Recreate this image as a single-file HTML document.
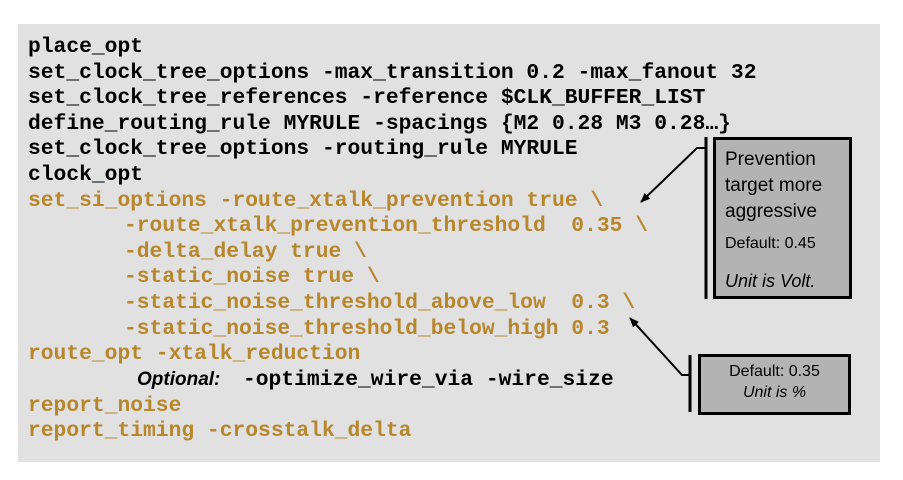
<!DOCTYPE html>
<html><head><style>
body{margin:0;width:903px;height:480px;background:#fff;position:relative;overflow:hidden}
.bg{position:absolute;left:18px;top:24px;width:862px;height:438px;background:#e1e1e1}
.l{position:absolute;left:28px;font-family:"Liberation Mono",monospace;font-weight:bold;font-size:21.3px;line-height:26px;white-space:pre;color:#000}
.o{color:#b8862b}
.s{font-family:"Liberation Sans",sans-serif}
</style></head><body>
<div class="bg"></div>
<div class="l" style="top:34px">place_opt</div>
<div class="l" style="top:60px">set_clock_tree_options -max_transition 0.2 -max_fanout 32</div>
<div class="l" style="top:85px">set_clock_tree_references -reference $CLK_BUFFER_LIST</div>
<div class="l" style="top:111px">define_routing_rule MYRULE -spacings {M2 0.28 M3 0.28…}</div>
<div class="l" style="top:136px">set_clock_tree_options -routing_rule MYRULE</div>
<div class="l" style="top:162px">clock_opt</div>
<div class="l o" style="top:188px">set_si_options -route_xtalk_prevention true \</div>
<div class="l o" style="top:213px;left:124px">-route_xtalk_prevention_threshold  0.35 \</div>
<div class="l o" style="top:239px;left:124px">-delta_delay true \</div>
<div class="l o" style="top:264px;left:124px">-static_noise true \</div>
<div class="l o" style="top:290px;left:124px">-static_noise_threshold_above_low  0.3 \</div>
<div class="l o" style="top:316px;left:124px">-static_noise_threshold_below_high 0.3</div>
<div class="l o" style="top:341px">route_opt -xtalk_reduction</div>
<div class="l" style="top:367px;left:137px"><span class="s" style="font-style:italic;font-size:19px">Optional:</span></div>
<div class="l" style="top:367px;left:243px">-optimize_wire_via -wire_size</div>
<div class="l o" style="top:393px">report_noise</div>
<div class="l o" style="top:418px">report_timing -crosstalk_delta</div>

<div style="position:absolute;left:713px;top:137px;width:133px;height:156px;background:#b3b3b3;border:3px solid #000;font-family:'Liberation Sans',sans-serif;color:#000">
<div style="position:absolute;left:9px;top:7px;font-size:19px;line-height:26px">Prevention<br>target more<br>aggressive</div>
<div style="position:absolute;left:9px;top:95px;font-size:16px">Default: 0.45</div>
<div style="position:absolute;left:9px;top:131px;font-size:18px;font-style:italic">Unit is Volt.</div>
</div>
<div style="position:absolute;left:698px;top:354px;width:147px;height:51px;background:#b3b3b3;border:3px solid #000;font-family:'Liberation Sans',sans-serif;text-align:center;color:#000;font-size:16px;line-height:21px;padding-top:4px;box-sizing:content-box">
Default: 0.35<br><i>Unit is %</i></div>

<svg width="903" height="480" style="position:absolute;left:0;top:0">
<defs><marker id="a" markerWidth="10" markerHeight="8" refX="9" refY="4" orient="auto" markerUnits="userSpaceOnUse"><path d="M0,0L10,4L0,8z" fill="#000"/></marker></defs>
<line x1="706" y1="137" x2="706" y2="299" stroke="#000" stroke-width="3"/>
<polyline points="706,148 697,148 641,202" fill="none" stroke="#000" stroke-width="2" marker-end="url(#a)"/>
<line x1="690" y1="355" x2="690" y2="412" stroke="#000" stroke-width="3"/>
<polyline points="690,375 682,375 630,318" fill="none" stroke="#000" stroke-width="2" marker-end="url(#a)"/>
</svg>
</body></html>
